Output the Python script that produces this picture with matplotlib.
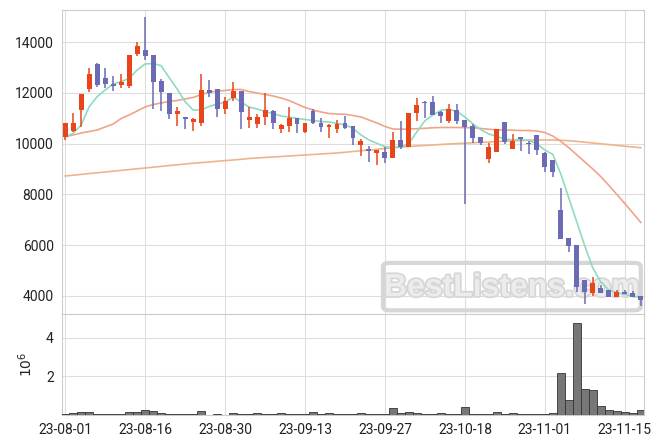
import numpy as np
import matplotlib
matplotlib.use("Agg")
import matplotlib.pyplot as plt
from matplotlib.patches import FancyBboxPatch
import matplotlib.patheffects as pe

plt.rcParams['font.family'] = ['Roboto', 'DejaVu Sans']

# daily candles, trading-day index 0..72 (23-08-01 .. 23-11-17)
opens = [10280, 10510, 11330, 12160, 13140, 12580, 12360, 12330, 12280, 13525,
         13700, 13500, 12470, 11990, 11160, 11040, 10870, 10830, 12120, 12160,
         11350, 11815, 12080, 10935, 10765, 11040, 11300, 10580, 10700, 11000,
         10475, 11300, 10805, 10670, 10570, 10805, 10700, 9950, 9780, 9645,
         9685, 9450, 10145, 9885, 11200, 11660, 11630, 11265, 10910, 11330,
         10935, 10700, 10250, 9380, 9685, 10845, 9790, 10250, 10040, 10345,
         9645, 9355, 7380, 6290, 6010, 4620, 4115, 4300, 4210, 3960,
         4145, 4115, 4000]
highs = [10820, 11200, 11970, 12980, 13200, 12975, 12680, 12740, 13500, 14000,
         15010, 13500, 12540, 12000, 11460, 11060, 11030, 12750, 12510, 12170,
         11850, 12420, 12080, 11460, 11160, 11990, 11330, 10760, 11460, 11000,
         10830, 11370, 11030, 10760, 10935, 11100, 10700, 10170, 9890, 9760,
         9885, 10475, 10895, 11225, 11790, 11680, 11880, 11290, 11555, 11565,
         10935, 10765, 10260, 10040, 10570, 10845, 10380, 10260, 10105, 10345,
         9660, 9355, 8250, 6290, 6010, 4640, 4740, 4440, 4210, 4210,
         4210, 4180, 4000]
lows = [10150, 10470, 10670, 12050, 12220, 12185, 12090, 12185, 12185, 13470,
        13300, 11380, 11290, 10960, 10700, 10570, 10515, 10700, 11850, 11065,
        11160, 11690, 10570, 10600, 10620, 10750, 10570, 10420, 10480, 10430,
        10410, 10770, 10480, 10210, 10420, 10580, 9950, 9515, 9290, 9160,
        9225, 9450, 9780, 9885, 10880, 11000, 11130, 10830, 10830, 10765,
        7610, 10040, 9950, 9240, 9685, 9990, 9790, 9700, 9580, 9560,
        8895, 8680, 6250, 5730, 4130, 3680, 3990, 4100, 3940, 3950,
        4080, 3950, 3590]
closes = [10800, 10800, 11960, 12750, 12320, 12355, 12280, 12435, 13500, 13855,
          13470, 12445, 12050, 11160, 11290, 10960, 10960, 12120, 11990, 11350,
          11690, 12080, 11265, 11040, 11040, 11330, 10805, 10740, 11000, 10765,
          10805, 10805, 10670, 10740, 10765, 10610, 10210, 10105, 9725, 9750,
          9450, 10145, 9860, 11225, 11525, 11620, 11130, 11090, 11360, 10910,
          10670, 10240, 10040, 9860, 10570, 10055, 10105, 10185, 9975, 9750,
          9090, 8895, 6250, 5960, 4340, 4130, 4510, 4115, 3960, 4145,
          4090, 3960, 3820]
# volume in millions of shares
volume = [0.05, 0.12, 0.18, 0.14, 0.04, 0.04, 0.04, 0.04, 0.14, 0.14,
          0.26, 0.21, 0.09, 0.04, 0.04, 0.04, 0.04, 0.20, 0.02, 0.04,
          0.02, 0.09, 0.03, 0.03, 0.08, 0.03, 0.03, 0.08, 0.05, 0.04,
          0.04, 0.14, 0.04, 0.09, 0.04, 0.04, 0.04, 0.08, 0.04, 0.04,
          0.04, 0.35, 0.09, 0.14, 0.09, 0.04, 0.04, 0.09, 0.03, 0.03,
          0.40, 0.04, 0.04, 0.04, 0.14, 0.04, 0.09, 0.03, 0.03, 0.04,
          0.04, 0.09, 2.15, 0.78, 4.74, 1.33, 1.29, 0.47, 0.26, 0.21,
          0.16, 0.10, 0.24]
# moving averages
ma5 = [10276, 10410, 10738, 11460, 11854, 12118, 12355, 12446, 12580, 12907,
       13144, 13164, 13077, 12611, 12158, 11657, 11329, 11329, 11467, 11566,
       11625, 11842, 11645, 11448, 11369, 11270, 11191, 11093, 11053, 10994,
       10955, 10915, 10876, 10856, 10797, 10738, 10607, 10343, 10146, 10016,
       9882, 9858, 9858, 10016, 10473, 10907, 11132, 11318, 11357, 11270,
       11053, 10777, 10552, 10383, 10284, 10185, 10146, 10166, 10126, 9988,
       9751, 9578, 8805, 7858, 6911, 5964, 5096, 4544, 4228, 4122,
       4051, 3990, 3950]
ma20 = [10276, 10343, 10422, 10481, 10540, 10659, 10777, 10994, 11132, 11290,
        11448, 11546, 11605, 11665, 11704, 11763, 11822, 11941, 12020, 12079,
        12099, 12138, 12138, 12059, 12000, 11941, 11882, 11803, 11704, 11566,
        11428, 11329, 11250, 11191, 11172, 11160, 11112, 11053, 10935, 10817,
        10678, 10580, 10568, 10580, 10592, 10607, 10627, 10639, 10639, 10639,
        10631, 10631, 10600, 10568, 10548, 10540, 10533, 10521, 10521, 10501,
        10440, 10300, 10090, 9840, 9560, 9280, 9000, 8700, 8360, 8000,
        7640, 7270, 6892]
ma60 = [8726, 8757, 8789, 8820, 8852, 8883, 8915, 8946, 8978, 9010,
        9041, 9073, 9104, 9136, 9167, 9199, 9230, 9254, 9278, 9306,
        9333, 9357, 9384, 9416, 9436, 9455, 9475, 9495, 9515, 9534,
        9554, 9574, 9594, 9613, 9633, 9661, 9692, 9720, 9751, 9779,
        9810, 9838, 9870, 9889, 9909, 9929, 9949, 9968, 9988, 10004,
        10020, 10035, 10051, 10067, 10083, 10099, 10114, 10126, 10138, 10146,
        10146, 10146, 10134, 10118, 10091, 10059, 10028, 9996, 9964, 9933,
        9901, 9870, 9842]
tick_pos = [0, 10, 20, 30, 40, 50, 60, 70]
tick_labels = ['23-08-01', '23-08-16', '23-08-30', '23-09-13',
               '23-09-27', '23-10-18', '23-11-01', '23-11-15']

up_color = '#e8461a'
down_color = '#6b6bb5'
grid_color = '#dddddd'
spine_color = '#cccccc'
text_color = '#222222'

x = np.arange(len(closes))
o = np.array(opens)
c = np.array(closes)
up = c >= o
colors = np.where(up, up_color, down_color)

fig = plt.figure(figsize=(6.63, 4.44), dpi=100)
ax = fig.add_axes([0.0935, 0.2928, 0.8778, 0.6847])
axv = fig.add_axes([0.0935, 0.0653, 0.8778, 0.2275], sharex=ax)

# watermark (behind the data)
box = FancyBboxPatch((0.5515, 0.012), 0.443, 0.156, transform=ax.transAxes,
                     boxstyle='round,pad=0.0,rounding_size=0.012',
                     facecolor='none', edgecolor='#d6d6d6', lw=3, zorder=1)
ax.add_patch(box)
ax.text(0.773, 0.085, 'BestListens.com', transform=ax.transAxes, ha='center', va='center',
        fontsize=23, fontweight='bold', family='Liberation Sans', color='#ececec', zorder=1,
        path_effects=[pe.withStroke(linewidth=2.5, foreground='#d6d6d6')])

# price panel
ax.plot(x, ma60, color='#efb489', lw=1.2, zorder=2)
ax.plot(x, ma20, color='#f0a486', lw=1.2, zorder=2)
ax.plot(x, ma5, color='#8edcbe', lw=1.2, zorder=2)
ax.vlines(x, lows, highs, colors=colors, lw=1.1, zorder=3)
body_bottom = np.minimum(o, c)
body_h = np.maximum(np.abs(c - o), 40)
ax.bar(x, body_h, bottom=body_bottom, width=0.62, color=colors, zorder=4)

ax.set_ylim(3282, 15274)
ax.set_yticks([4000, 6000, 8000, 10000, 12000, 14000])
ax.set_xlim(-0.4, 72.4)

# volume panel
axv.bar(x, volume, width=1.0, color='#777777', edgecolor='#333333', linewidth=0.6, zorder=3)
axv.set_ylim(0, 5.23)
axv.set_yticks([2, 4])
axv.set_ylabel('$10^6$', color=text_color, fontsize=10, labelpad=8)
axv.set_xticks(tick_pos)
axv.set_xticklabels(tick_labels)

for a in (ax, axv):
    a.grid(True, color=grid_color, lw=0.8, zorder=0)
    a.set_axisbelow(True)
    for s in a.spines.values():
        s.set_color(spine_color)
    a.tick_params(length=0, labelsize=10, colors=text_color, pad=6)
plt.setp(ax.get_xticklabels(), visible=False)

fig.savefig('out.png', dpi=100)
